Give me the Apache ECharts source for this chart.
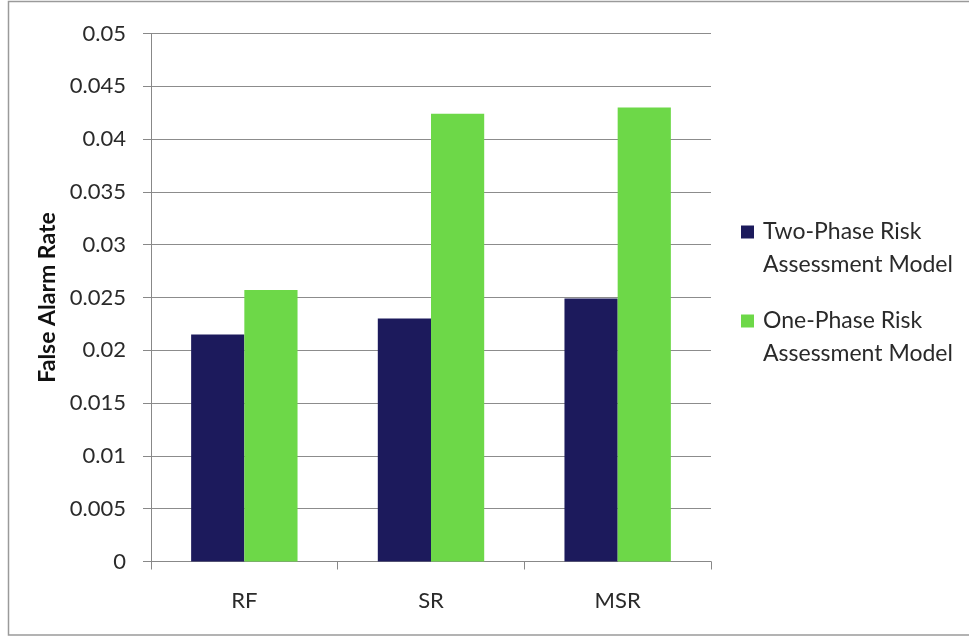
<!DOCTYPE html>
<html><head><meta charset="utf-8">
<script src="https://cdn.jsdelivr.net/npm/echarts@6/dist/echarts.min.js"></script>
<style>html,body{margin:0;padding:0;background:#fff}#c{width:969px;height:637px}</style>
</head><body><div id="c"></div>
<script>
const categories = ['RF', 'SR', 'MSR'];
const twoPhase = [0.0215, 0.0230, 0.0249];
const onePhase = [0.0257, 0.0424, 0.0430];
const seriesNames = ['Two-Phase Risk Assessment Model', 'One-Phase Risk Assessment Model'];
const yTicks = ['0','0.005','0.01','0.015','0.02','0.025','0.03','0.035','0.04','0.045','0.05'];

const chart = echarts.init(document.getElementById('c'));
const font = 'Lato, "Open Sans", sans-serif';
const legendBase = {
  orient: 'vertical', left: 741, padding: 0, itemWidth: 13, itemHeight: 13, icon: 'rect',
  // leading blank line keeps the marker level with the first text line
  formatter: n => '\u00a0\n' + n.replace(' Assessment', '\nAssessment'),
  textStyle: {fontFamily: font, fontSize: 23, color: '#2a2a2a', lineHeight: 33, padding: [0, 0, 0, 4]}
};
chart.setOption({
  animation: false,
  graphic: [{
    type: 'rect', shape: {x: 8.5, y: 1.5, width: 980, height: 633.5},
    style: {fill: 'none', stroke: '#9a9a9a', lineWidth: 1.5}, silent: true
  }],
  grid: {left: 151, right: 258, top: 33.5, bottom: 75.5},
  legend: [
    Object.assign({}, legendBase, {top: 182.5, data: [seriesNames[0]]}),
    Object.assign({}, legendBase, {top: 271.5, data: [seriesNames[1]]})
  ],
  xAxis: {
    type: 'category', data: categories,
    axisLine: {lineStyle: {color: '#888'}},
    axisTick: {show: true, length: 8, lineStyle: {color: '#888'}},
    axisLabel: {fontFamily: font, fontSize: 22, color: '#2a2a2a', margin: 28}
  },
  yAxis: {
    type: 'value', min: 0, max: 0.05, interval: 0.005,
    name: 'False Alarm Rate', nameLocation: 'middle', nameGap: 91, nameRotate: 90,
    nameTextStyle: {fontFamily: font, fontSize: 23, fontWeight: 'bold', color: '#111'},
    axisLine: {show: true, lineStyle: {color: '#888'}},
    axisTick: {show: true, length: 8, lineStyle: {color: '#888'}},
    axisLabel: {fontFamily: font, fontSize: 22, color: '#2a2a2a', margin: 25,
      formatter: (v) => yTicks[Math.round(v / 0.005)]},
    splitLine: {lineStyle: {color: '#8c8c8c', width: 1}}
  },
  series: [
    {name: seriesNames[0], type: 'bar', data: twoPhase, barGap: '0%', barCategoryGap: '43%',
     itemStyle: {color: '#1c1a5c'}},
    {name: seriesNames[1], type: 'bar', data: onePhase, barGap: '0%', barCategoryGap: '43%',
     itemStyle: {color: '#6dd848'}}
  ]
});
</script></body></html>
